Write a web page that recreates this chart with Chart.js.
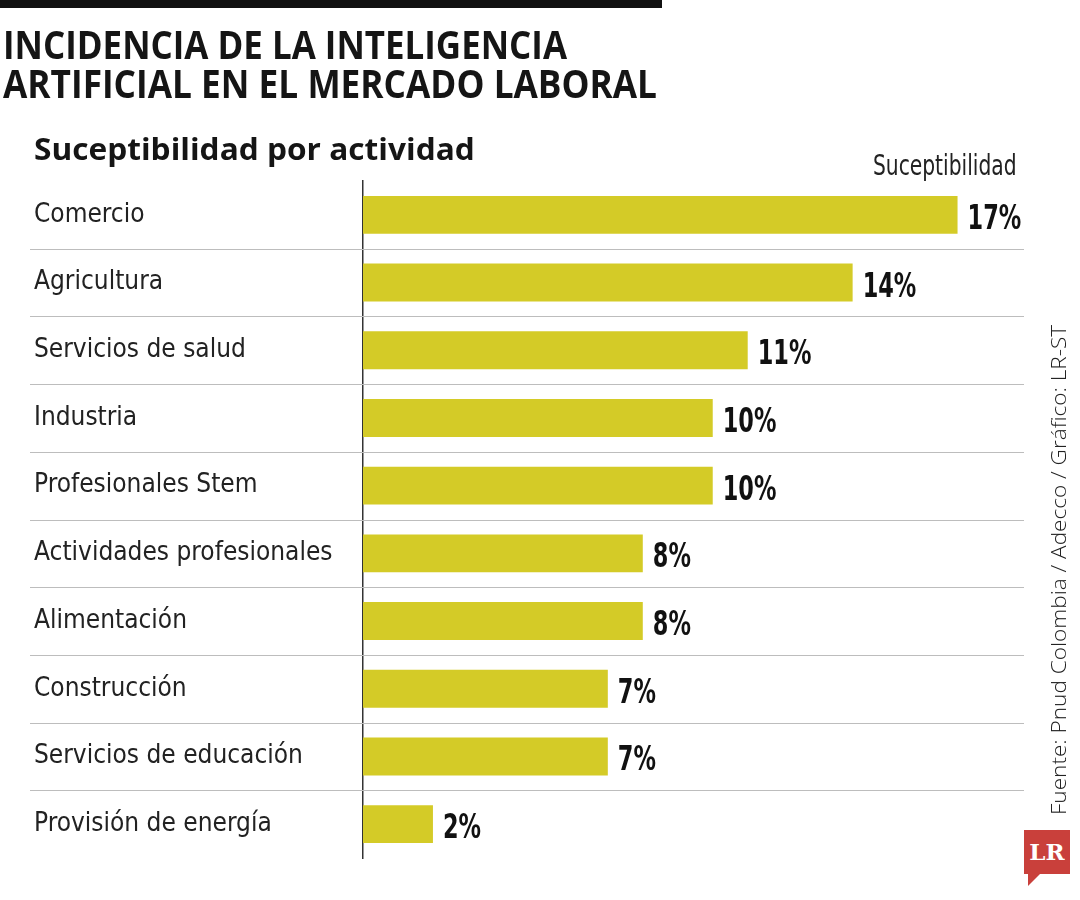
<!DOCTYPE html>
<html>
<head>
<meta charset="utf-8">
<script src="https://cdn.jsdelivr.net/npm/chart.js@4"></script>
<style>
  body { margin: 0; background: #fff; }
  #wrap { position: relative; width: 1080px; height: 900px; overflow: hidden; }
  #topbar { position: absolute; left: 0; top: 0; width: 662px; height: 8px; background: #111; }
  .fit { position: absolute; white-space: nowrap; transform-origin: 0 0; color: #151515; }
  .title { left: 3px; font-family: "Open Sans", sans-serif; font-weight: 700; font-size: 39px; line-height: 1; }
  #t1 { top: 24px; }
  #t2 { top: 63px; }
  #subtitle { left: 34px; top: 133px; font-family: "Open Sans", sans-serif; font-weight: 700; font-size: 31px; line-height: 1; }
  #serieslbl { right: 63px; top: 152px; transform-origin: 100% 0; font-family: "DejaVu Sans Condensed", "DejaVu Sans", sans-serif; font-size: 28px; line-height: 1; color: #222; }
  #source { left: 1048px; top: 815px; font-family: "Open Sans", sans-serif; font-weight: 300; font-size: 21px; line-height: 1; color: #222; }
  #logo { position: absolute; left: 1024px; top: 830px; width: 46px; height: 44px; background: #c9403b; color: #fff; font-family: "DejaVu Serif", serif; font-weight: bold; font-size: 23px; line-height: 44px; text-align: center; }
  #logo:after { content: ""; position: absolute; left: 4px; bottom: -12px; border-right: 12px solid transparent; border-top: 12px solid #c9403b; }
  canvas { position: absolute; left: 0; top: 0; }
</style>
</head>
<body>
<div id="wrap">
  <canvas id="myChart" width="1080" height="900"></canvas>
  <div id="topbar"></div>
  <div class="fit title" id="t1">INCIDENCIA DE LA INTELIGENCIA</div>
  <div class="fit title" id="t2">ARTIFICIAL EN EL MERCADO LABORAL</div>
  <div class="fit" id="subtitle">Suceptibilidad por actividad</div>
  <div class="fit" id="serieslbl">Suceptibilidad</div>
  <div class="fit" id="source">Fuente: Pnud Colombia / Adecco / Gráfico: LR-ST</div>
  <div id="logo">LR</div>
</div>
<script>
const categories = ['Comercio', 'Agricultura', 'Servicios de salud', 'Industria', 'Profesionales Stem',
  'Actividades profesionales', 'Alimentación', 'Construcción', 'Servicios de educación', 'Provisión de energía'];
const values = [17, 14, 11, 10, 10, 8, 8, 7, 7, 2];
const seriesName = 'Suceptibilidad';

// squeeze the html texts to the widths of the original lettering
function fitText() {
  const fits = [['t1', 564, ''], ['t2', 654, ''], ['subtitle', 441, ''], ['serieslbl', 144, ''], ['source', 490, 'rotate(-90deg) ']];
  fits.forEach(([id, w, pre]) => {
    const el = document.getElementById(id);
    el.style.transform = pre + 'scaleX(' + (w / el.offsetWidth) + ')';
  });
}
fitText();
document.fonts.ready.then(fitText);

// separators between rows, running under the labels too
const separators = {
  id: 'separators',
  beforeDatasetsDraw(chart) {
    const y = chart.scales.y;
    const c = chart.ctx;
    c.save();
    c.strokeStyle = '#bdbdbd';
    c.lineWidth = 1;
    for (let i = 0; i < categories.length - 1; i++) {
      const py = Math.round((y.getPixelForTick(i) + y.getPixelForTick(i + 1)) / 2) + 0.5;
      c.beginPath();
      c.moveTo(30, py);
      c.lineTo(chart.chartArea.right, py);
      c.stroke();
    }
    c.restore();
  }
};

const valueLabels = {
  id: 'valueLabels',
  afterDatasetsDraw(chart) {
    const c = chart.ctx;
    const meta = chart.getDatasetMeta(0);
    c.save();
    c.font = 'bold 34px "DejaVu Sans"';
    c.fillStyle = '#111';
    c.textBaseline = 'alphabetic';
    meta.data.forEach((bar, i) => {
      c.save();
      c.translate(bar.x + 10, bar.y + 14);
      c.scale(0.66, 1);
      c.fillText(values[i] + '%', 0, 0);
      c.restore();
    });
    c.restore();
  }
};

const ctx = document.getElementById('myChart');
new Chart(ctx, {
  type: 'bar',
  data: {
    labels: categories,
    datasets: [{
      label: seriesName,
      data: values,
      backgroundColor: '#d4cb27',
      categoryPercentage: 1,
      barPercentage: 0.56
    }]
  },
  options: {
    indexAxis: 'y',
    responsive: false,
    animation: false,
    layout: { padding: { left: 34, right: 56, top: 181, bottom: 42 } },
    plugins: { legend: { display: false }, tooltip: { enabled: false } },
    scales: {
      x: { display: false, min: 0, max: 18.9 },
      y: {
        grid: { display: false },
        border: { display: true, color: '#333', width: 1.5 },
        afterFit(scale) { scale.width = 329; },
        ticks: {
          crossAlign: 'far',
          padding: 0,
          color: '#222',
          font: { family: '"DejaVu Sans Condensed", "DejaVu Sans"', size: 26 }
        }
      }
    }
  },
  plugins: [separators, valueLabels]
});
</script>
</body>
</html>
